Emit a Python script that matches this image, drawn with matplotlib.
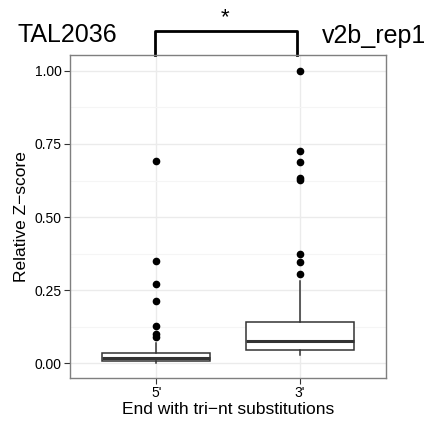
import matplotlib
matplotlib.use("Agg")
import matplotlib.pyplot as plt

plt.rcParams['font.family'] = ['Liberation Sans', 'DejaVu Sans']

# box summary stats
categories = ["5'", "3'"]
q1 = [0.009, 0.044]
medians = [0.020, 0.075]
q3 = [0.036, 0.142]
whisker_lo = [0.0, 0.028]
whisker_hi = [0.068, 0.282]
outliers = [
    [0.691, 0.351, 0.271, 0.213, 0.127, 0.102, 0.091],
    [1.0, 0.726, 0.689, 0.633, 0.628, 0.373, 0.346, 0.305],
]
yticks = [0.0, 0.25, 0.5, 0.75, 1.0]
ytick_labels = ["0.00", "0.25", "0.50", "0.75", "1.00"]

fig = plt.figure(figsize=(4.28, 4.25), dpi=100)
ax = fig.add_axes([0.1636, 0.1106, 0.7383, 0.76])

stats = []
for i, lab in enumerate(categories):
    stats.append(dict(label=lab, med=medians[i], q1=q1[i], q3=q3[i],
                      whislo=whisker_lo[i], whishi=whisker_hi[i],
                      fliers=outliers[i]))

pos = [1, 2]
ax.bxp(stats, positions=pos, widths=0.75, patch_artist=True, showcaps=False,
       boxprops=dict(facecolor='white', edgecolor='#333333', linewidth=1.1),
       medianprops=dict(color='#333333', linewidth=2.2),
       whiskerprops=dict(color='#333333', linewidth=1.1),
       flierprops=dict(marker='o', markerfacecolor='black', markeredgecolor='black',
                       markersize=4.5, linestyle='none'),
       zorder=3)

ax.set_xlim(0.4, 2.6)
ax.set_ylim(-0.05, 1.054)
ax.set_xticks(pos)
ax.set_xticklabels(categories, fontsize=10)
ax.set_yticks(yticks)
ax.set_yticklabels(ytick_labels, fontsize=10)
ax.set_yticks([0.125, 0.375, 0.625, 0.875], minor=True)
ax.tick_params(which='major', length=4, color='#333333', labelcolor='black', pad=2)
ax.tick_params(which='minor', length=0)

ax.grid(which='major', color='#EBEBEB', linewidth=1.0, zorder=0)
ax.grid(which='minor', axis='y', color='#F5F5F5', linewidth=0.8, zorder=0)
ax.set_axisbelow(True)
for s in ax.spines.values():
    s.set_color('#7F7F7F')
    s.set_linewidth(1.0)

ax.set_xlabel("End with tri\u2212nt substitutions", fontsize=12.5, labelpad=1)
ax.set_ylabel("Relative Z\u2212score", fontsize=12.5, labelpad=4)

# significance bracket
trans = ax.get_xaxis_transform()
ax.plot([0.99, 0.99, 1.98, 1.98], [1.0, 1.075, 1.075, 1.0], color='black',
        linewidth=2.0, transform=trans, clip_on=False, solid_joinstyle='round')
ax.text(1.48, 1.115, "*", ha='center', va='center', fontsize=16, transform=trans)

fig.text(0.042, 0.9, "TAL2036", fontsize=18, ha='left', va='baseline')
fig.text(0.995, 0.9, "v2b_rep1", fontsize=18, ha='right', va='baseline')

fig.savefig("out.png", dpi=100)
